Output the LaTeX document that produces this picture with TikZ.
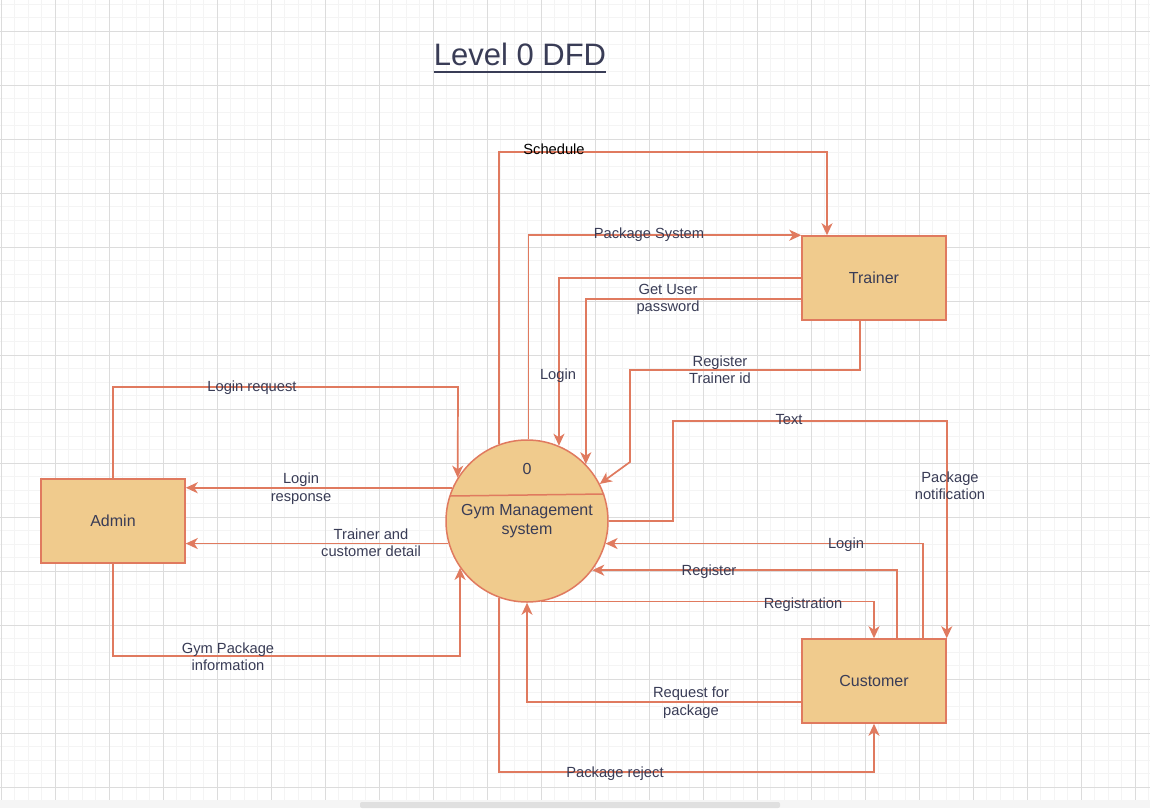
\documentclass[tikz,border=0pt]{standalone}
\usepackage{fontspec}
\setmainfont{Liberation Sans}
\usetikzlibrary{arrows.meta,calc}
\definecolor{stk}{HTML}{E07A5F}
\definecolor{fil}{HTML}{F0CB8D}
\definecolor{fnt}{HTML}{393C56}
\definecolor{gmaj}{HTML}{DCDCDC}
\definecolor{gmin}{HTML}{F4F4F4}
\begin{document}
\begin{tikzpicture}[x=1pt,y=-1pt,
  box/.style={draw=stk,fill=fil,line width=1.5pt,minimum width=144pt,minimum height=84pt,inner sep=0pt,text=fnt,font=\fontsize{16}{18.5}\selectfont},
  proc/.style={circle,draw=stk,fill=fil,line width=1.5pt,minimum size=162pt,inner sep=0pt},
  flow/.style={draw=stk,line width=1.7pt,-{Stealth[length=12pt,width=11pt,inset=3.5pt]}},
  lbl/.style={text=fnt,font=\fontsize{14.7}{17.5}\selectfont,align=center,inner sep=0pt,yshift=-1.5pt},
  ptxt/.style={text=fnt,font=\fontsize{16}{18.5}\selectfont,align=center,inner sep=0pt},
]
% background and grid
\fill[white] (0,0) rectangle (1150,808);
\useasboundingbox (0,0) rectangle (1150,808);
\foreach \i in {0,...,85} \draw[gmin,line width=0.8pt] ({1+13.5*\i},0) -- ({1+13.5*\i},800);
\foreach \j in {0,...,58} \draw[gmin,line width=0.8pt] (0,{4+13.5*\j}) -- (1150,{4+13.5*\j});
\foreach \i in {0,...,21} \draw[gmaj,line width=0.9pt] ({1+54*\i},0) -- ({1+54*\i},800);
\foreach \j in {0,...,14} \draw[gmaj,line width=0.9pt] (0,{31+54*\j}) -- (1150,{31+54*\j});
\fill[white!96!black] (0,800) rectangle (1150,808);
\fill[white!88!black,rounded corners=2pt] (360,802) rectangle (780,808);

% title
\node[anchor=base,inner sep=0pt,text=fnt,font=\fontsize{31}{36}\selectfont] (title) at (520,66) {Level 0 DFD};
\draw[fnt,line width=2pt] ([yshift=-5.5pt]title.base west) -- ([yshift=-5.5pt]title.base east);

% nodes
\node[proc] (p) at (527,521) {};
\draw[stk,line width=1.5pt] ($(p.center)+(-77,-25)$) -- ($(p.center)+(77,-27)$);
\node[ptxt] (pnum) at ($(p.center)+(0,-52)$) {0};
\node[ptxt] (pname) at (p.center) {Gym Management\\system};
\node[box] (A) at (113,521) {Admin};
\node[box] (T) at (874,278) {Trainer};
\node[box] (C) at (874,681) {Customer};

% bend coordinates
\coordinate (s1) at (827,152);
\coordinate (r1) at (630,370);
\coordinate (r2) at (630,462);
\coordinate (n1) at (673,421);
\coordinate (k1) at (874,772);
\coordinate (l1) at (458,387);
\coordinate (g1) at (0,656);

% Trainer flows
\draw[flow] (p.110) |- (s1) -- (s1 |- T.north);
\draw[flow] (p.89) |- (T.north west);
\draw[flow] (T.west) -| (p.67.5);
\draw[flow] ($(T.west)+(0,21)$) -| (p.44);
\draw[flow] ($(T.south)+(-14,0)$) |- (r1) -- (r2) -- (p.27);

% Customer flows
\draw[flow] (p.east) -| (n1) -| (C.north east);
\draw[flow] ($(C.north)+(49,0)$) |- (p.-16);
\draw[flow] ($(C.north)+(23,0)$) |- (p.-37);
\draw[flow] (p.-80) -| (C.north);
\draw[flow] ($(C.west)+(0,21)$) -| (p.south);
\draw[flow] (p.250) |- (k1) -- (C.south);

% Admin flows
\draw[flow] (A.north) |- (l1) -- (p.148);
\draw[flow] (p.156) -- (A.east |- p.156);
\draw[flow] (p.196) -- (A.east |- p.196);
\draw[flow] (A.south) -- (A.south |- g1) -| (p.215);

% labels
\node[lbl,text=black] (t1) at (554,148) {Schedule};
\node[lbl] (t2) at (649,233) {Package System};
\node[lbl] (t3) at (558,374) {Login};
\node[lbl] (t4) at (668,298) {Get User\\password};
\node[lbl] (t5) at (720,368) {Register\\Trainer id};
\node[lbl] (t6) at (789,418) {Text};
\node[lbl] (t7) at (950,484) {Package\\notification};
\node[lbl] (t8) at (846,543) {Login};
\node[lbl] (t9) at (709,570) {Register};
\node[lbl] (t10) at (803,603) {Registration};
\node[lbl] (t11) at (691,701) {Request for\\package};
\node[lbl] (t12) at (615,772) {Package reject};
\node[lbl] (t13) at (252,386) {Login request};
\node[lbl] (t14) at (301,487) {Login\\response};
\node[lbl] (t15) at (371,541) {Trainer and\\customer detail};
\node[lbl] (t16) at (228,655) {Gym Package\\information};
\end{tikzpicture}
\end{document}
